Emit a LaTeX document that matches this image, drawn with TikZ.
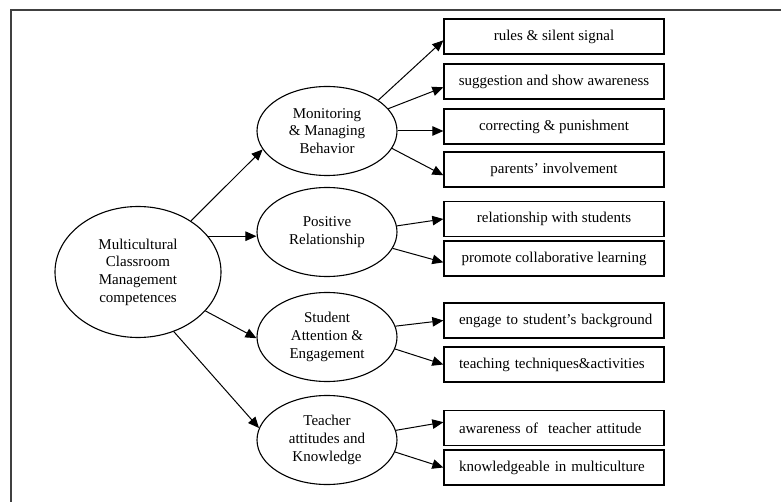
\documentclass[tikz,border=0pt]{standalone}
\usepackage{fontspec}
\setmainfont{Liberation Serif}
\usetikzlibrary{shapes.geometric,arrows.meta}
\begin{document}
\begin{tikzpicture}[x=1pt,y=-1pt,
  txt/.style={font=\fontsize{15}{17.7}\selectfont},
  topic/.style={txt, ellipse, draw, line width=1.1pt, inner sep=0pt, align=center,
                minimum width=140pt, minimum height=89pt},
  item/.style={txt, draw, line width=1.3pt, minimum width=220pt, minimum height=35pt, inner sep=0pt},
  itemleft/.style={item, text width=190pt, inner xsep=15pt, align=left},
  link/.style={line width=1pt, -{Triangle[length=11pt,width=9.5pt]}},
  frameline/.style={draw=black!75, line width=1.4pt}
]
\useasboundingbox (0,0) rectangle (781,502);
% open frame around the figure
\draw[frameline] (11,502) -- (11,10) -- (781,10);

% central concept
\node[topic, minimum width=166pt, minimum height=131pt] (mcm) at (138,272)
  {Multicultural\\Classroom\\Management\\competences};

% four competence areas
\node[topic] (mon) at (327,131) {Monitoring\\\& Managing\\Behavior};
\node[topic] (pos) at (327,232) {Positive\\Relationship};
\node[topic] (stu) at (327,337) {Student\\Attention \&\\Engagement};
\node[topic] (tea) at (327,440) {Teacher\\attitudes and\\Knowledge};

% indicators
\node[item] (rules) at (554,36.5)  {rules \& silent signal};
\node[item] (sugg)  at (554,81.5)  {suggestion and show awareness};
\node[item] (corr)  at (554,126.5) {correcting \& punishment};
\node[item] (par)   at (554,169.5) {parents’ involvement};
\node[item] (rel)   at (554,219)   {relationship with students};
\node[item] (prom)  at (554,258.5) {promote collaborative learning};
\node[itemleft] (eng)   at (554,320.5) {\mbox{engage to student’s background}};
\node[itemleft] (teach) at (554,364.5) {\mbox{teaching techniques\&activities}};
\node[itemleft] (aware) at (554,428)   {\mbox{awareness of~ teacher attitude}};
\node[itemleft] (know)  at (554,467.5) {\mbox{knowledgeable in multiculture}};

% central concept to areas
\draw[link] (mcm.44)  -- (mon.196);
\draw[link] (mcm.27)  -- (pos.west |- mcm.27);
\draw[link] (mcm.-30) -- (stu.181);
\draw[link] (mcm.-59) -- (tea.170);

% areas to indicators
\draw[link] (mon.31)    -- (rules.182);
\draw[link] (mon.20.7)  -- (sugg.183.4);
\draw[link] (mon.east)  -- (corr.west |- mon.east);
\draw[link] (mon.-15.5) -- (par.183.4);

\draw[link] (pos.5)   -- (rel.west);
\draw[link] (pos.-14) -- (prom.182.3);

\draw[link] (stu.9)     -- (eng.west);
\draw[link] (stu.-10.5) -- (teach.west);

\draw[link] (tea.8)     -- (aware.177.4);
\draw[link] (tea.-10.5) -- (know.west);
\end{tikzpicture}
\end{document}
